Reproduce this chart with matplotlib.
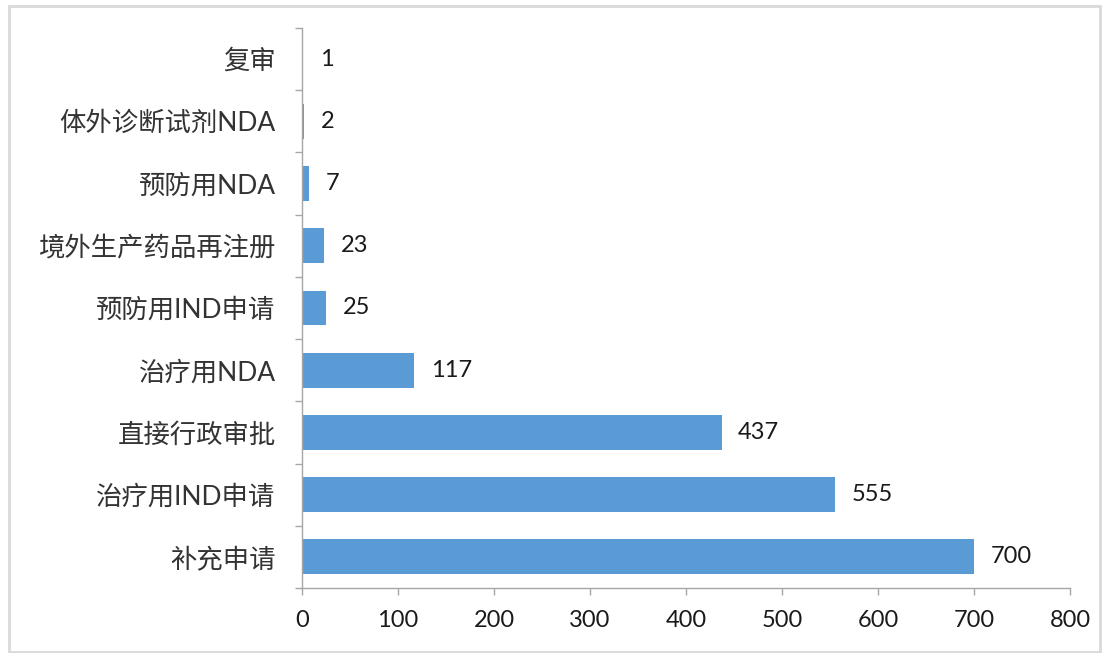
import matplotlib
matplotlib.use("Agg")
import matplotlib.pyplot as plt
from matplotlib.patches import Rectangle

categories = ["补充申请", "治疗用IND申请", "直接行政审批", "治疗用NDA", "预防用IND申请",
              "境外生产药品再注册", "预防用NDA", "体外诊断试剂NDA", "复审"]
values = [700, 555, 437, 117, 25, 23, 7, 2, 1]
x_ticks = [0, 100, 200, 300, 400, 500, 600, 700, 800]

fonts = ["Lato", "Noto Sans CJK SC", "DejaVu Sans"]
plt.rcParams["font.family"] = fonts

W, H = 1104, 653
fig = plt.figure(figsize=(W / 100, H / 100), dpi=100)
fig.patch.set_facecolor("white")

# light gray frame around the chart area
fig.add_artist(Rectangle((9 / W, 1 / H), (1100 - 9) / W, (647 - 1) / H,
                         transform=fig.transFigure, fill=False,
                         edgecolor="#d9d9d9", linewidth=2))

ax = fig.add_axes([302 / W, 1 - 588 / H, (1070 - 302) / W, (588 - 28) / H])
ypos = list(range(len(categories)))
ax.barh(ypos, values, height=0.56, color="#5b9bd5")

for y, v in zip(ypos, values):
    ax.annotate(str(v), xy=(v, y), xytext=(12, 0), textcoords="offset points",
                va="center", ha="left", fontsize=17, color="#1a1a1a")

ax.set_xlim(0, 800)
ax.set_ylim(-0.5, len(categories) - 0.5)
ax.set_xticks(x_ticks)
ax.set_xticklabels([str(t) for t in x_ticks], fontsize=17, color="#1a1a1a")
ax.set_yticks(ypos)
ax.set_yticklabels(categories, fontsize=19, color="#333333")
ax.set_yticks([i - 0.5 for i in range(len(categories) + 1)], minor=True)

ax.tick_params(axis="y", which="major", length=0, pad=19)
ax.tick_params(axis="y", which="minor", length=5, color="#a6a6a6", width=1)
ax.tick_params(axis="x", which="major", length=5, color="#a6a6a6", width=1, pad=11)

for side in ["top", "right"]:
    ax.spines[side].set_visible(False)
for side in ["left", "bottom"]:
    ax.spines[side].set_color("#a6a6a6")
    ax.spines[side].set_linewidth(1)

fig.savefig("out.png", dpi=100, facecolor="white")
